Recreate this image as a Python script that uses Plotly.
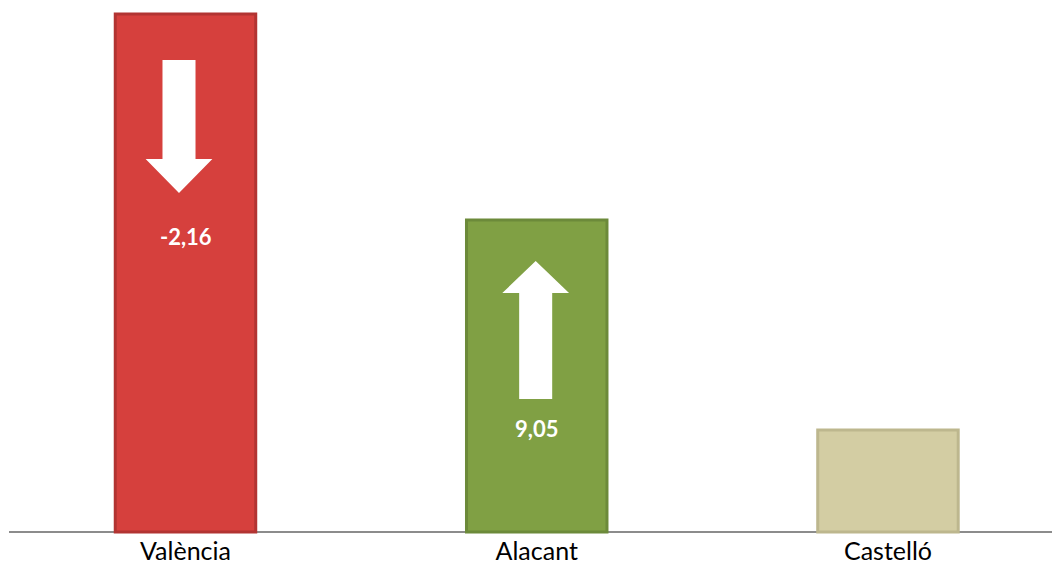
import plotly.graph_objects as go

# data (bar heights in arbitrary units, change labels)
categories = ["València", "Alacant", "Castelló"]
values = [5.18, 3.12, 1.02]
changes = ["-2,16", "9,05", None]
directions = ["down", "up", None]
bar_colors = ["#D6403D", "#80A044", "#D3CDA3"]
edge_colors = ["#B23432", "#6C8A3A", "#BDB78E"]

x = list(range(len(categories)))

fig = go.Figure()
fig.add_trace(go.Bar(
    x=x, y=values, width=0.40,
    marker=dict(color=bar_colors, line=dict(color=edge_colors, width=3)),
    hoverinfo="skip",
))


def arrow_path(cx, direction, top):
    # arrow drawn inside the bar, relative to its top (data units)
    sw, hw = 0.047, 0.095
    if direction == "down":
        y0, yh, yt = top - 0.46, top - 1.45, top - 1.79
    else:
        y0, yh, yt = top - 1.79, top - 0.73, top - 0.41
    return (f"M {cx - sw},{y0} L {cx + sw},{y0} L {cx + sw},{yh} L {cx + hw},{yh} "
            f"L {cx},{yt} L {cx - hw},{yh} L {cx - sw},{yh} Z")


for i, (v, d, c) in enumerate(zip(values, directions, changes)):
    if d is None:
        continue
    cx = i - (0.0185 if d == "down" else 0.003)
    fig.add_shape(type="path", path=arrow_path(cx, d, v), xref="x", yref="y",
                  fillcolor="white", line=dict(width=0))
    label_y = v - 2.22 if d == "down" else v - 2.08
    fig.add_annotation(x=i, y=label_y, text=f"<b>{c}</b>", showarrow=False,
                       font=dict(family="Lato", size=22, color="white"))

fig.update_layout(
    width=1052, height=564,
    margin=dict(l=9, r=0, t=0, b=30),
    paper_bgcolor="white", plot_bgcolor="white",
    showlegend=False,
    font=dict(family="Lato", size=25, color="#000000"),
    xaxis=dict(range=[-0.5025, 2.467], tickvals=x, ticktext=categories,
               showgrid=False, showline=False, zeroline=False, ticks="",
               ticklabelstandoff=0, automargin=False),
    yaxis=dict(range=[-0.02, 5.32], visible=True, showticklabels=False,
               showgrid=False, zeroline=True, zerolinecolor="#8C8C8C",
               zerolinewidth=1.5, showline=False, ticks=""),
)

fig.write_html("out.html", config={"displayModeBar": False},
               post_script="document.body.style.margin='0px';")
